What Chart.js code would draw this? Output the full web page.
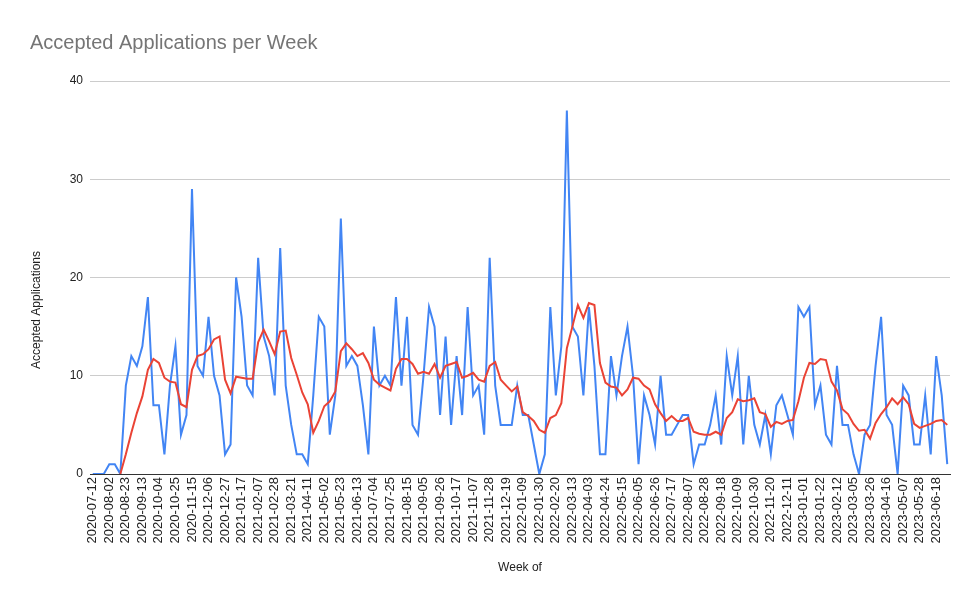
<!DOCTYPE html>
<html>
<head>
<meta charset="utf-8">
<script src="https://cdn.jsdelivr.net/npm/chart.js@4"></script>
<style>
  html, body { margin: 0; padding: 0; background: #ffffff; }
  #wrap { width: 980px; height: 607px; }
</style>
</head>
<body>
<div id="wrap"><canvas id="c" width="980" height="607"></canvas></div>
<script>
const weeks = [
  "2020-07-12","2020-07-19","2020-07-26","2020-08-02","2020-08-09","2020-08-16","2020-08-23","2020-08-30","2020-09-06","2020-09-13",
  "2020-09-20","2020-09-27","2020-10-04","2020-10-11","2020-10-18","2020-10-25","2020-11-01","2020-11-08","2020-11-15","2020-11-22",
  "2020-11-29","2020-12-06","2020-12-13","2020-12-20","2020-12-27",
  "2021-01-03","2021-01-10","2021-01-17","2021-01-24","2021-01-31","2021-02-07","2021-02-14","2021-02-21","2021-02-28","2021-03-07",
  "2021-03-14","2021-03-21","2021-03-28","2021-04-04","2021-04-11","2021-04-18","2021-04-25","2021-05-02","2021-05-09","2021-05-16",
  "2021-05-23","2021-05-30","2021-06-06","2021-06-13","2021-06-20","2021-06-27","2021-07-04","2021-07-11","2021-07-18","2021-07-25",
  "2021-08-01","2021-08-08","2021-08-15","2021-08-22","2021-08-29","2021-09-05","2021-09-12","2021-09-19","2021-09-26","2021-10-03",
  "2021-10-10","2021-10-17","2021-10-24","2021-10-31","2021-11-07","2021-11-14","2021-11-21","2021-11-28","2021-12-05","2021-12-12",
  "2021-12-19","2021-12-26",
  "2022-01-02","2022-01-09","2022-01-16","2022-01-23","2022-01-30","2022-02-06","2022-02-13","2022-02-20","2022-02-27","2022-03-06",
  "2022-03-13","2022-03-20","2022-03-27","2022-04-03","2022-04-10","2022-04-17","2022-04-24","2022-05-01","2022-05-08","2022-05-15",
  "2022-05-22","2022-05-29","2022-06-05","2022-06-12","2022-06-19","2022-06-26","2022-07-03","2022-07-10","2022-07-17","2022-07-24",
  "2022-07-31","2022-08-07","2022-08-14","2022-08-21","2022-08-28","2022-09-04","2022-09-11","2022-09-18","2022-09-25","2022-10-02",
  "2022-10-09","2022-10-16","2022-10-23","2022-10-30","2022-11-06","2022-11-13","2022-11-20","2022-11-27","2022-12-04","2022-12-11",
  "2022-12-18","2022-12-25",
  "2023-01-01","2023-01-08","2023-01-15","2023-01-22","2023-01-29","2023-02-05","2023-02-12","2023-02-19","2023-02-26","2023-03-05",
  "2023-03-12","2023-03-19","2023-03-26","2023-04-02","2023-04-09","2023-04-16","2023-04-23","2023-04-30","2023-05-07","2023-05-14",
  "2023-05-21","2023-05-28","2023-06-04","2023-06-11","2023-06-18","2023-06-25","2023-07-02"
];

const accepted = [
  0,0,0,1,1,0,9,12,11,13,
  18,7,7,2,9,13,4,6,29,11,
  10,16,10,8,2,3,20,16,9,8,
  22,14,12,8,23,9,5,2,2,1,
  8,16,15,4,8,26,11,12,11,7,
  2,15,9,10,9,18,9,16,5,4,
  10,17,15,6,14,5,12,6,17,8,
  9,4,22,9,5,5,5,9,6,6,
  3,0,2,17,8,13,37,15,14,8,
  17,11,2,2,12,8,12,15,10,1,
  8,6,3,10,4,4,5,6,6,1,
  3,3,5,8,3,12,8,12,3,10,
  5,3,6,2,7,8,6,4,17,16,
  17,7,9,4,3,11,5,5,2,0,
  4,5,11,16,6,5,0,9,8,3,
  3,8,2,12,8,1
];

const trend = [
  null,null,null,null,null,0,2.0,4.2,6.2,7.9,
  10.6,11.7,11.3,9.8,9.4,9.3,7.1,6.8,10.6,12.0,
  12.2,12.7,13.7,14.0,9.6,8.2,9.9,9.8,9.7,9.7,
  13.4,14.7,13.5,12.2,14.5,14.6,11.8,10.1,8.3,7.1,
  4.2,5.4,6.9,7.4,8.4,12.5,13.3,12.7,12.0,12.3,
  11.3,9.6,9.1,8.8,8.5,10.7,11.7,11.7,11.2,10.2,
  10.4,10.2,11.2,9.8,11.0,11.2,11.4,9.8,10.0,10.3,
  9.6,9.4,11.0,11.4,9.6,9.0,8.4,8.9,6.3,5.9,
  5.4,4.5,4.2,5.7,6.0,7.2,12.8,15.0,17.2,15.9,
  17.4,17.2,11.3,9.3,8.9,8.8,8.0,8.6,9.8,9.7,
  9.0,8.6,7.1,6.2,5.4,5.9,5.4,5.4,5.7,4.3,
  4.1,4.0,4.0,4.3,4.0,5.7,6.3,7.6,7.4,7.5,
  7.7,6.3,6.1,4.8,5.3,5.1,5.4,5.5,7.4,9.8,
  11.3,11.2,11.7,11.6,9.4,8.5,6.6,6.1,5.1,4.4,
  4.5,3.6,5.2,6.1,6.8,7.7,7.1,7.8,7.1,5.1,
  4.7,4.9,5.1,5.4,5.5,5.0
];

const yTicks = [0, 10, 20, 30, 40];

const FONT = "'Liberation Sans', Arial, sans-serif";

const yTitlePlugin = {
  id: 'yTitle',
  afterDraw(chart) {
    const ctx = chart.ctx;
    ctx.save();
    ctx.translate(37, 310);
    ctx.rotate(-Math.PI / 2);
    ctx.font = "12px " + FONT;
    ctx.fillStyle = '#222222';
    ctx.textAlign = 'center';
    ctx.textBaseline = 'middle';
    ctx.fillText('Accepted Applications', 0, 0);
    ctx.restore();
  }
};

new Chart(document.getElementById('c'), {
  type: 'line',
  data: {
    labels: weeks,
    datasets: [
      {
        label: 'Accepted Applications',
        data: accepted,
        borderColor: '#4285F4',
        backgroundColor: '#4285F4',
        borderWidth: 2,
        pointRadius: 0,
        tension: 0,
        order: 2
      },
      {
        label: 'Trend',
        data: trend,
        borderColor: '#EA4335',
        backgroundColor: '#EA4335',
        borderWidth: 2,
        pointRadius: 0,
        tension: 0,
        order: 1
      }
    ]
  },
  options: {
    responsive: false,
    animation: false,
    devicePixelRatio: 1,
    layout: { padding: { left: 30, right: 30, top: 0, bottom: 0 } },
    plugins: {
      legend: { display: false },
      tooltip: { enabled: false },
      title: {
        display: true,
        text: 'Accepted Applications per Week',
        align: 'start',
        color: '#757575',
        font: { family: FONT, size: 20, weight: 'normal' },
        padding: { top: 31.5, bottom: 25.5 }
      }
    },
    scales: {
      x: {
        type: 'category',
        offset: true,
        grid: { display: false, drawTicks: false },
        border: { display: true, color: '#333333', width: 1 },
        ticks: {
          autoSkip: false,
          maxRotation: 90,
          minRotation: 90,
          padding: 3,
          color: '#222222',
          font: { family: FONT, size: 13 },
          callback: function(value, index) {
            return index % 3 === 0 ? weeks[index] : '';
          }
        },
        title: {
          display: true,
          text: 'Week of',
          color: '#222222',
          font: { family: FONT, size: 12 },
          padding: { top: 4, bottom: 31.8 }
        },
        afterFit(scale) { scale.height = 133; }
      },
      y: {
        min: 0,
        max: 40,
        afterBuildTicks(scale) { scale.ticks = yTicks.map(v => ({ value: v })); },
        grid: {
          drawTicks: false,
          color: ctx => (ctx.tick && ctx.tick.value === 0) ? 'rgba(0,0,0,0)' : '#cccccc',
          lineWidth: 1
        },
        border: { display: false },
        ticks: {
          padding: 7,
          color: '#222222',
          font: { family: FONT, size: 12 }
        },
        afterFit(scale) { scale.width = 60; }
      }
    }
  },
  plugins: [yTitlePlugin]
});
</script>
</body>
</html>
